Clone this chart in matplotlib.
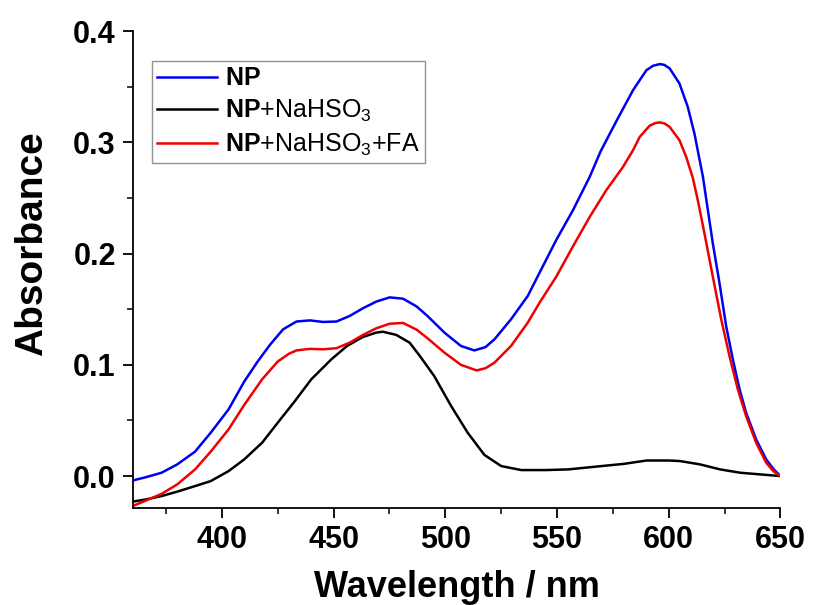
import matplotlib
matplotlib.use("Agg")
from matplotlib import pyplot as plt
from matplotlib.ticker import MultipleLocator

plt.rcParams['font.family'] = ['Liberation Sans', 'DejaVu Sans']
plt.rcParams['mathtext.fontset'] = 'custom'
plt.rcParams['mathtext.rm'] = 'Liberation Sans'
plt.rcParams['mathtext.bf'] = 'Liberation Sans:bold'

# NP
np_wl = [360, 366, 373, 380, 388, 395, 403, 410, 416, 421.5, 427.4, 433.4, 439.4, 445.3,
         451.3, 457.2, 463.2, 469.2, 475.1, 481.1, 487.1, 492, 499.6, 507, 513, 518, 522,
         529.4, 536.9, 542.2, 549.7, 557.1, 564.6, 569.5, 576.5, 584, 590, 593, 596, 598,
         600.4, 604.8, 608.5, 611.5, 615.3, 619.7, 622.7, 625.7, 628.7, 631.7, 634.6,
         639.1, 643.6, 647, 650]
np_abs = [-0.004, -0.001, 0.003, 0.0105, 0.022, 0.039, 0.060, 0.085, 0.103, 0.118, 0.132,
          0.139, 0.140, 0.1386, 0.139, 0.144, 0.151, 0.157, 0.1607, 0.1595, 0.1526, 0.144,
          0.129, 0.117, 0.113, 0.116, 0.123, 0.141, 0.162, 0.183, 0.2125, 0.239, 0.269,
          0.292, 0.319, 0.347, 0.365, 0.369, 0.3705, 0.3698, 0.3666, 0.353, 0.332, 0.308,
          0.269, 0.2095, 0.1736, 0.1347, 0.1048, 0.078, 0.057, 0.033, 0.015, 0.006, 0.0]

# NP + NaHSO3
nah_wl = [360, 366, 373, 380, 388, 395, 403, 410, 418, 425, 432.5, 440, 449, 456, 463,
          469, 472, 478, 484, 488.6, 495, 502.6, 510, 517.5, 525, 534, 545, 555, 570,
          580, 590, 600, 605, 614, 623, 632, 641, 650]
nah_abs = [-0.023, -0.021, -0.018, -0.014, -0.009, -0.0045, 0.0045, 0.015, 0.030, 0.048,
           0.067, 0.087, 0.105, 0.117, 0.125, 0.129, 0.1298, 0.127, 0.120, 0.108, 0.090,
           0.063, 0.039, 0.019, 0.009, 0.0054, 0.0054, 0.006, 0.009, 0.011, 0.014, 0.014,
           0.0135, 0.0105, 0.006, 0.003, 0.0015, 0.0]

# NP + NaHSO3 + FA
fa_wl = [360, 366, 373, 380, 388, 395, 403, 410, 418, 425, 430, 433.4, 439.4, 445.3,
         451.3, 457.2, 463.2, 469.2, 475.1, 481.1, 487.1, 492, 499.6, 507, 514, 518, 522,
         529.4, 536.9, 542.2, 549.7, 557.1, 564.6, 572, 579.5, 584, 587, 591.4, 594,
         595.9, 598, 600.4, 604.8, 607.8, 610.8, 613, 616, 619.7, 623.5, 627.2, 630.9,
         634.6, 639.1, 643.6, 647, 650]
fa_abs = [-0.027, -0.022, -0.016, -0.0075, 0.006, 0.022, 0.042, 0.064, 0.087, 0.103,
          0.110, 0.113, 0.1144, 0.114, 0.115, 0.120, 0.127, 0.133, 0.137, 0.1377, 0.1317,
          0.124, 0.111, 0.100, 0.095, 0.097, 0.102, 0.117, 0.138, 0.156, 0.1795, 0.2065,
          0.233, 0.257, 0.278, 0.293, 0.305, 0.315, 0.3175, 0.318, 0.3172, 0.314, 0.302,
          0.287, 0.268, 0.248, 0.218, 0.1795, 0.1407, 0.1077, 0.078, 0.054, 0.030, 0.012,
          0.004, 0.0]

fig = plt.figure(figsize=(8.13, 6.05), dpi=100)
ax = fig.add_axes([0.163, 0.1598, 0.797, 0.7885])

ax.plot(np_wl, np_abs, color='#0000f0', lw=1.8, label=r'$\mathbf{NP}$')
ax.plot(nah_wl, nah_abs, color='black', lw=1.8, label=r'$\mathbf{NP}$+NaHSO$_3$')
ax.plot(fa_wl, fa_abs, color='#f00000', lw=1.8, label=r'$\mathbf{NP}$+NaHSO$_3$+FA')

ax.set_xlim(360, 650)
ax.set_ylim(-0.029, 0.4)
ax.xaxis.set_minor_locator(MultipleLocator(25))
ax.yaxis.set_minor_locator(MultipleLocator(0.05))
ax.set_xticks([400, 450, 500, 550, 600, 650])
ax.set_yticks([0.0, 0.1, 0.2, 0.3, 0.4])
ax.set_yticklabels(['0.0', '0.1', '0.2', '0.3', '0.4'])

ax.spines['top'].set_visible(False)
ax.spines['right'].set_visible(False)
for s in ['left', 'bottom']:
    ax.spines[s].set_linewidth(1.3)
ax.tick_params(which='major', direction='out', length=7, width=1.3, labelsize=22, pad=5)
ax.tick_params(which='minor', direction='out', length=4, width=1.1)
for lab in ax.get_xticklabels() + ax.get_yticklabels():
    lab.set_fontweight('bold')

ax.set_xlabel('Wavelength / nm', fontsize=26, fontweight='bold', labelpad=11)
ax.set_ylabel('Absorbance', fontsize=28, fontweight='bold')
ax.yaxis.set_label_coords(-0.128, 0.554)

leg = ax.legend(loc='upper left', bbox_to_anchor=(0.030, 0.937), borderaxespad=0,
                fontsize=18, frameon=True, fancybox=False, handlelength=2.4,
                handletextpad=0.32, labelspacing=0.3, borderpad=0.2)
leg.get_frame().set_edgecolor('#777777')
leg.get_frame().set_linewidth(1.0)

fig.savefig('out.png', dpi=100)
